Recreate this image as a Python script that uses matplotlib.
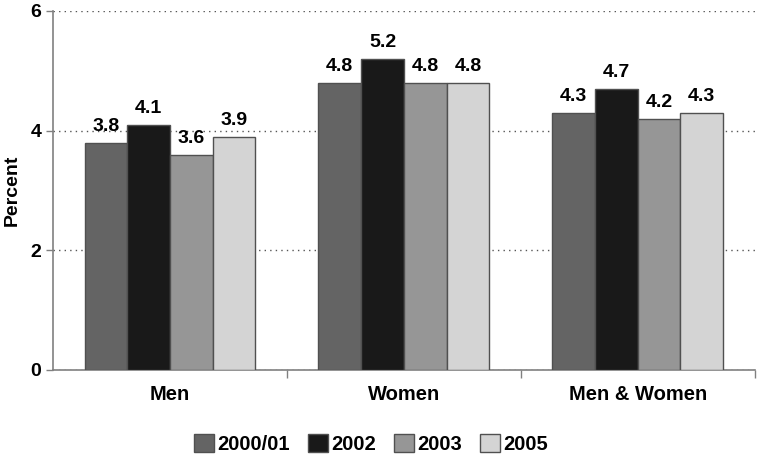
import numpy as np
import matplotlib.pyplot as plt

plt.rcParams['font.family'] = ['Liberation Sans', 'DejaVu Sans']
plt.rcParams['font.weight'] = 'bold'

groups = ['Men', 'Women', 'Men & Women']
years = ['2000/01', '2002', '2003', '2005']
v2000 = [3.8, 4.8, 4.3]
v2002 = [4.1, 5.2, 4.7]
v2003 = [3.6, 4.8, 4.2]
v2005 = [3.9, 4.8, 4.3]
series = [v2000, v2002, v2003, v2005]
colors = ['#646464', '#191919', '#969696', '#d4d4d4']

fig = plt.figure(figsize=(7.57, 4.55), dpi=100)
ax = fig.add_axes([0.070, 0.187, 0.927, 0.789])

x = np.arange(len(groups))
w = 0.1825
for i, vals in enumerate(series):
    pos = x + (i - 1.5) * w
    bars = ax.bar(pos, vals, w, color=colors[i], edgecolor='#505050',
                  linewidth=1, label=years[i], zorder=3)
    for b, v in zip(bars, vals):
        ax.text(b.get_x() + b.get_width() / 2, v + 0.13, f'{v:.1f}',
                ha='center', va='bottom', fontsize=14, fontweight='bold')

ax.set_xlim(-0.5, 2.5)
ax.set_ylim(0, 6)
ax.set_yticks([0, 2, 4, 6])
ax.set_yticklabels(['0', '2', '4', '6'], fontsize=14, fontweight='bold')
ax.set_xticks(x)
ax.set_xticklabels(groups, fontsize=14.5, fontweight='bold')
ax.tick_params(axis='x', length=0, pad=11)
ax.tick_params(axis='y', length=5, color='#808080', width=1)
ax.set_xticks([0.5, 1.5, 2.5], minor=True)
ax.tick_params(axis='x', which='minor', length=6, color='#808080', width=1)

ax.yaxis.grid(True, linestyle=(0, (1, 3)), color='#555555', linewidth=1, zorder=0)
for s in ['top', 'right']:
    ax.spines[s].set_visible(False)
ax.spines['left'].set_color('#808080')
ax.spines['bottom'].set_color('#808080')
ax.spines['left'].set_linewidth(1.2)
ax.spines['bottom'].set_linewidth(1.2)

ax.set_ylabel('Percent', fontsize=14, fontweight='bold', labelpad=7)

fig.legend(loc='lower center', bbox_to_anchor=(0.49, -0.038), ncol=4,
           frameon=False, handlelength=1.0, handleheight=1.0,
           handletextpad=0.15, columnspacing=0.9, prop={'weight': 'bold', 'size': 14.5})

fig.savefig('out.png', dpi=100)
